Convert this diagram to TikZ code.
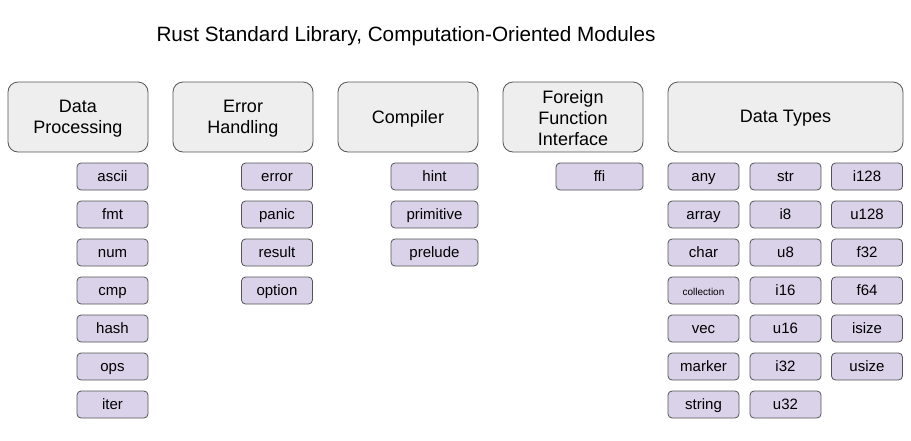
\documentclass[tikz,border=0pt]{standalone}
\usepackage{fontspec}
\setmainfont{Liberation Sans}
\definecolor{hdrfill}{HTML}{EEEEEE}
\definecolor{hdrline}{HTML}{555555}
\definecolor{modfill}{HTML}{D9D2E9}
\definecolor{modline}{HTML}{555555}
\begin{document}
\begin{tikzpicture}[x=1pt,y=-1pt,
  hdrbox/.style={draw=hdrline,fill=hdrfill,rounded corners=10pt,line width=0.8pt,minimum width=140pt,minimum height=70pt},
  hdrtxt/.style={align=center,font=\fontsize{18}{21}\selectfont,inner sep=0pt},
  mod/.style={draw=modline,fill=modfill,rounded corners=4pt,line width=0.8pt,minimum width=71pt,minimum height=27pt,inner sep=0pt,text height=12pt,text depth=2pt,font=\fontsize{15}{18}\selectfont},
  modw/.style={mod,minimum width=87pt}]
\useasboundingbox (0,0) rectangle (911,440);
\node[font=\fontsize{20.7}{24}\selectfont] (title) at (406,36) {Rust Standard Library, Computation-Oriented Modules};
\node[hdrbox] (dp) at (78,117) {};
\node[hdrtxt] (dpt) at (78,118.5) {Data\\Processing};
\node[hdrbox] (eh) at (243,117) {};
\node[hdrtxt] (eht) at (243,118.5) {Error\\Handling};
\node[hdrbox] (co) at (408,117) {};
\node[hdrtxt] (cot) at (408,118.5) {Compiler};
\node[hdrbox] (ffih) at (573,117) {};
\node[hdrtxt] (ffiht) at (573,118.5) {Foreign\\Function\\Interface};
\node[hdrbox,minimum width=235pt] (dt) at (785.5,117) {};
\node[hdrtxt] (dtt) at (785.5,118.5) {Data Types};
\foreach \t [count=\i from 0] in {ascii,fmt,num,cmp,hash,ops,iter}
  \node[mod] (dp\i) at (112.5,176.5+38*\i) {\t};
\foreach \t [count=\i from 0] in {error,panic,result,option}
  \node[mod] (eh\i) at (277,176.5+38*\i) {\t};
\foreach \t [count=\i from 0] in {hint,primitive,prelude}
  \node[modw] (co\i) at (434.5,176.5+38*\i) {\t};
\node[modw] (ffi) at (599.5,176.5) {ffi};
\foreach \t [count=\i from 0] in {any,array,char,{\fontsize{10}{12}\selectfont collection},vec,marker,string}
  \node[mod] (dta\i) at (703.5,176.5+38*\i) {\t};
\foreach \t [count=\i from 0] in {str,i8,u8,i16,u16,i32,u32}
  \node[mod] (dtb\i) at (785.5,176.5+38*\i) {\t};
\foreach \t [count=\i from 0] in {i128,u128,f32,f64,isize,usize}
  \node[mod] (dtc\i) at (867,176.5+38*\i) {\t};
\end{tikzpicture}
\end{document}
